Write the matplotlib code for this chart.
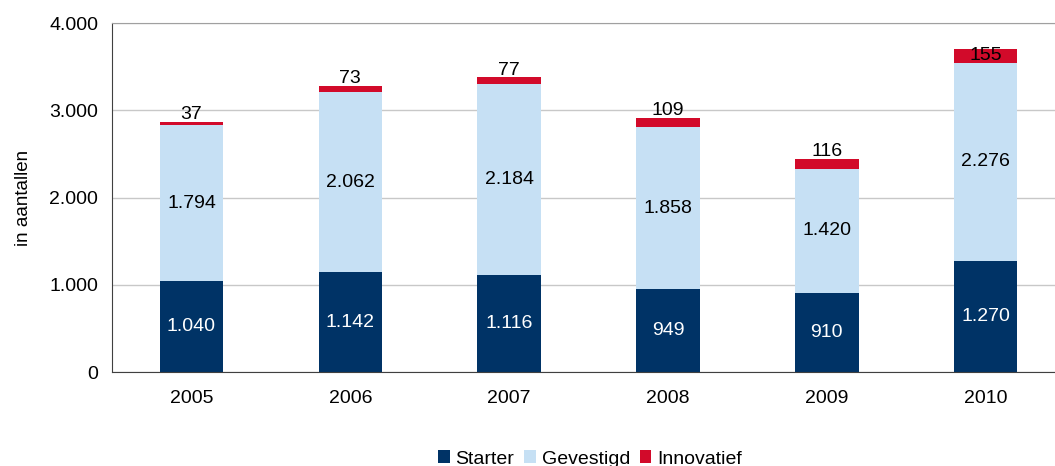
import matplotlib.pyplot as plt
import numpy as np

plt.rcParams['font.family'] = ['Liberation Sans', 'DejaVu Sans']

jaren = ['2005', '2006', '2007', '2008', '2009', '2010']
starter = [1040, 1142, 1116, 949, 910, 1270]
gevestigd = [1794, 2062, 2184, 1858, 1420, 2276]
innovatief = [37, 73, 77, 109, 116, 155]
series = ['Starter', 'Gevestigd', 'Innovatief']
kleuren = ['#003366', '#C6E0F4', '#D20A2A']


def nl(v):
    # duizendtal-punt zoals in het origineel
    return '{:,}'.format(v).replace(',', '.')


fig = plt.figure(figsize=(10.55, 4.66), dpi=100)
ax = fig.add_axes([0.1062, 0.2017, 0.9033, 0.7489])

x = np.arange(len(jaren))
w = 0.4
s = np.array(starter)
g = np.array(gevestigd)
i = np.array(innovatief)
ax.bar(x, s, w, color=kleuren[0], label=series[0], zorder=2)
ax.bar(x, g, w, bottom=s, color=kleuren[1], label=series[1], zorder=2)
ax.bar(x, i, w, bottom=s + g, color=kleuren[2], label=series[2], zorder=2)

fs = 14
for k in range(len(jaren)):
    ax.text(x[k], s[k] / 2, nl(s[k]), ha='center', va='center', color='white', fontsize=fs, zorder=3)
    ax.text(x[k], s[k] + g[k] / 2, nl(g[k]), ha='center', va='center', color='black', fontsize=fs, zorder=3)
    top = s[k] + g[k] + i[k]
    if jaren[k] == '2010':
        ax.text(x[k], top - i[k] / 2, nl(i[k]), ha='center', va='center', color='black', fontsize=fs, zorder=3)
    else:
        ax.text(x[k], top - 15, nl(i[k]), ha='center', va='bottom', color='black', fontsize=fs, zorder=3)

ax.set_xlim(-0.5, 5.5)
ax.set_ylim(0, 4000)
ax.set_yticks([0, 1000, 2000, 3000, 4000])
ax.set_yticklabels([nl(v) for v in [0, 1000, 2000, 3000, 4000]], fontsize=14)
ax.set_xticks(x)
ax.set_xticklabels(jaren, fontsize=14)
ax.tick_params(axis='both', length=0)
ax.tick_params(axis='y', pad=10)
ax.tick_params(axis='x', pad=13)
ax.yaxis.grid(True, color='#C8C8C8', linewidth=1, zorder=0)
ax.set_axisbelow(True)
ax.spines['left'].set_color('#404040')
ax.spines['bottom'].set_color('#404040')
ax.spines['top'].set_color('#A0A0A0')
ax.spines['right'].set_visible(False)
ax.set_ylabel('in aantallen', fontsize=13.5, labelpad=12)

h, l = ax.get_legend_handles_labels()
fig.legend(h, l, loc='center', bbox_to_anchor=(590 / 1055, 1 - 459 / 466), ncol=3, frameon=False,
           fontsize=14, handlelength=0.6, handleheight=0.6, handletextpad=0.3, columnspacing=0.5)

fig.savefig('out.png', dpi=100)
